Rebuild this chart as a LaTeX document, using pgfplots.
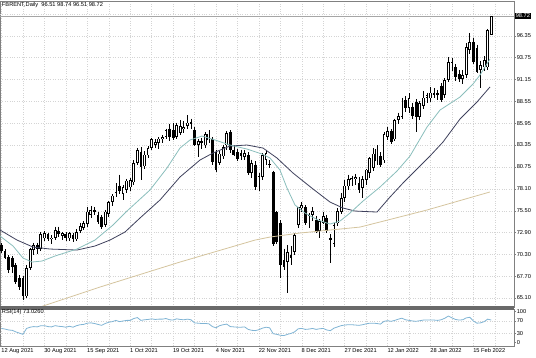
\documentclass[border=0pt]{standalone}
\usepackage{fontspec}
\setmainfont{Liberation Sans}
\usepackage{pgfplots}
\pgfplotsset{compat=1.18}
\usepackage{pgfplotstable}

\definecolor{gridc}{RGB}{212,212,212}
\definecolor{framec}{RGB}{128,128,128}
\definecolor{sepc}{RGB}{105,105,105}
\definecolor{tealma}{RGB}{138,190,188}
\definecolor{darkma}{RGB}{62,64,92}
\definecolor{tanma}{RGB}{212,196,158}
\definecolor{rsic}{RGB}{128,180,212}
\newcommand{\tf}{\fontsize{5.7}{6.5}\selectfont}

% bullish candles: index open high low close
\pgfplotstableread{
i o h l c
7 65.30 69.00 65.10 68.70
8 68.70 71.10 68.40 70.90
9 70.80 71.70 70.20 71.40
11 71.00 73.00 70.70 72.70
12 72.20 73.10 71.90 72.80
14 72.10 72.60 71.50 72.30
15 72.30 73.60 72.00 73.20
17 72.50 73.00 72.00 72.80
19 72.20 73.00 71.90 72.80
21 72.10 73.30 71.90 73.00
22 73.10 74.10 72.80 73.70
23 73.50 74.30 73.20 74.00
24 73.90 76.00 73.60 75.40
25 75.00 76.10 74.60 75.60
29 73.80 75.60 73.60 75.40
30 75.10 76.70 74.80 76.50
31 76.60 77.50 76.10 77.30
32 77.60 78.80 77.20 78.50
34 77.50 78.60 76.80 78.30
35 78.00 79.30 77.60 79.10
36 78.30 79.40 77.90 79.20
37 78.90 81.50 78.60 81.20
38 81.20 83.00 80.90 82.70
40 80.80 82.60 80.50 82.20
41 82.10 83.20 81.80 83.00
42 83.00 84.20 82.70 84.00
43 83.40 84.00 83.00 83.70
44 83.60 84.30 82.90 84.10
45 84.00 84.50 83.60 84.30
46 84.30 85.30 84.00 85.10
49 84.30 86.00 84.00 85.70
50 84.80 86.30 84.50 85.60
51 85.20 86.20 84.80 85.50
52 85.60 86.90 85.30 86.00
55 83.40 84.00 81.90 83.80
57 83.30 84.90 83.00 84.60
58 83.90 85.10 83.60 84.70
61 81.20 82.60 80.90 82.30
62 82.00 83.40 81.70 83.10
63 83.30 85.00 82.80 84.80
68 81.90 82.80 81.50 82.40
70 80.00 81.60 79.40 81.20
72 78.40 80.00 77.90 79.60
73 79.50 82.40 79.20 82.10
74 81.60 82.80 81.00 82.40
80 69.40 71.40 65.70 70.60
82 70.60 72.80 70.20 72.60
83 73.80 76.00 73.40 75.90
84 75.80 76.50 75.40 76.20
86 74.00 75.20 73.50 75.00
87 75.00 75.90 74.30 75.50
89 73.10 74.50 72.20 74.30
90 74.10 75.40 73.90 74.90
93 71.60 74.00 71.20 73.80
94 74.00 75.80 73.70 75.50
95 75.40 77.60 75.10 77.00
96 77.00 79.20 76.60 78.50
97 78.40 79.80 78.00 79.30
98 79.20 79.70 78.40 79.40
99 79.30 79.90 78.60 79.50
101 78.20 79.60 77.00 79.30
102 79.20 80.50 78.60 80.40
103 80.00 81.90 79.40 81.80
104 80.60 83.00 80.20 82.30
105 81.40 83.30 81.00 82.90
107 81.50 84.90 81.20 84.60
108 84.30 85.50 83.90 85.00
110 84.00 86.50 83.80 86.30
111 86.30 87.20 85.90 86.80
112 86.70 89.00 86.40 88.50
114 87.80 89.50 87.20 88.90
117 86.70 88.60 86.30 88.30
118 88.00 89.80 87.60 89.00
119 89.00 89.60 88.30 89.30
120 88.90 90.20 88.50 89.60
124 89.30 91.30 88.90 91.10
125 91.10 93.80 90.80 93.20
126 92.60 93.70 92.20 93.20
129 91.20 92.30 90.60 91.70
130 91.70 95.50 91.30 95.00
131 94.70 96.70 94.20 95.60
134 92.30 93.40 90.10 92.90
135 92.60 93.90 92.20 93.50
136 92.60 97.20 92.30 97.00
137 96.51 98.74 96.51 98.72
}\bulltab

% bearish candles
\pgfplotstableread{
i o h l c
0 71.45 71.70 70.50 70.70
1 70.70 70.90 69.70 69.90
2 70.00 70.20 68.10 68.50
3 69.90 70.10 68.10 68.80
4 69.00 69.30 66.80 67.00
5 67.50 67.80 66.00 66.40
6 67.50 67.70 64.90 65.30
10 71.40 71.70 70.30 70.90
13 72.70 72.90 71.90 72.10
16 73.10 73.60 72.40 72.70
18 72.70 73.00 71.90 72.20
20 72.60 72.90 71.80 72.10
26 75.60 75.90 75.00 75.40
27 75.00 75.40 73.90 74.20
28 74.80 75.00 73.30 73.60
33 78.50 79.80 77.50 77.80
39 82.50 83.10 79.20 80.70
47 85.30 85.90 83.80 84.30
48 85.10 86.00 83.90 84.20
53 86.10 86.50 85.30 85.80
54 85.10 85.50 83.20 83.40
56 83.80 84.20 82.90 83.60
59 84.10 84.30 81.00 81.30
60 82.50 82.80 80.10 80.40
64 84.90 85.10 82.40 82.70
65 82.80 83.30 82.00 82.20
66 82.50 82.90 81.40 81.70
67 82.40 82.80 81.50 82.00
69 82.10 82.50 79.80 80.00
71 81.00 81.40 78.00 78.30
75 81.10 81.50 80.60 80.90
76 80.10 80.30 71.30 71.60
77 75.30 75.50 71.50 71.80
78 74.10 74.40 67.50 69.00
79 69.60 71.00 68.40 68.80
81 70.20 71.30 69.00 69.90
85 75.90 76.20 73.80 74.00
88 74.40 74.90 72.90 73.00
91 74.60 75.00 72.90 73.10
92 72.30 72.70 69.30 72.00
100 78.80 79.50 77.60 78.00
106 82.00 82.50 80.70 81.00
109 85.00 85.20 83.50 83.70
113 88.70 89.20 87.30 87.80
115 87.90 88.40 86.50 86.80
116 88.50 88.80 84.90 86.70
121 89.60 90.10 89.00 89.30
122 89.50 89.90 88.70 89.30
123 90.40 90.70 88.50 88.70
127 92.60 93.00 91.00 91.40
128 91.80 92.30 90.80 91.20
132 95.60 96.10 93.00 93.20
133 94.90 95.30 91.90 92.10
}\beartab

\pgfplotstableread{
i r
0 46
1 44
2 41
3 40
4 35
5 31
6 27
7 46
8 50
9 52
10 51
11 55
12 55
13 52
14 51
15 55
16 53
17 52
18 50
19 53
20 50
21 55
22 58
23 59
24 63
25 64
26 62
27 59
28 56
29 62
30 66
31 68
32 72
33 68
34 70
35 72
36 72
37 78
38 81
39 72
40 74
41 75
42 77
43 75
44 76
45 76
46 78
47 74
48 73
49 77
50 75
51 74
52 76
53 74
54 64
55 63
56 62
57 62
58 61
59 52
60 48
61 55
62 58
63 60
64 52
65 51
66 50
67 50
68 51
69 43
70 40
71 39
72 42
73 47
74 50
75 48
76 29
77 27
78 24
79 23
80 27
81 30
82 35
83 45
84 46
85 43
86 44
87 46
88 43
89 45
90 46
91 41
92 39
93 47
94 51
95 55
96 57
97 58
98 58
99 57
100 56
101 58
102 61
103 63
104 63
105 62
106 60
107 69
108 71
109 69
110 72
111 76
112 79
113 74
114 72
115 70
116 69
117 71
118 73
119 73
120 73
121 73
122 72
123 74
124 79
125 86
126 80
127 75
128 73
129 74
130 80
131 82
132 70
133 63
134 64
135 68
136 76
137 73.03
}\rsitab

\pgfplotsset{
  chartbase/.style={
    scale only axis, width=514bp,
    xmin=-0.42, xmax=143.36,
    xtick={0,6,...,138},
    xmajorgrids,
    grid style={gridc, line width=0.5bp, dash pattern=on 0.8bp off 1.6bp},
    axis line style={framec, line width=0.8bp},
    tick style={framec, line width=0.5bp},
    tick align=outside,
    xtick style={draw=none},
    major tick length=2bp,
    yticklabel pos=right,
    ticklabel style={font=\tf, text=black},
    yticklabel style={anchor=west, inner sep=0.6bp},
    /pgf/number format/assume math mode=true,
    clip mode=individual,
  }
}

\begin{document}
\begin{tikzpicture}[x=1bp,y=1bp]

\begin{axis}[chartbase, at={(0bp,50bp)}, anchor=south west, height=306bp,
  ymin=64.03, ymax=100.51,
  ymajorgrids,
  ytick={65.10,67.70,70.30,72.90,75.50,78.10,80.75,83.35,85.95,88.55,91.15,93.75,96.35},
  y tick label style={/pgf/number format/.cd, fixed, fixed zerofill, precision=2},
  extra y ticks={98.95}, extra y tick labels={},
  xticklabels={},
]
% bid line
\addplot[black!35, line width=0.6bp] coordinates {(-1,98.72) (144,98.72)};
% wicks
\addplot[black, line width=0.7bp, quiver={u=0, v=\thisrow{l}-\thisrow{h}}] table[x=i, y=h] {\beartab};
\addplot[black, line width=0.7bp, quiver={u=0, v=\thisrow{l}-\thisrow{h}}] table[x=i, y=h] {\bulltab};
% bodies
\addplot[black, line width=2.8bp, quiver={u=0, v=\thisrow{c}-\thisrow{o}}] table[x=i, y=o] {\beartab};
\addplot[black, line width=2.8bp, quiver={u=0, v=\thisrow{c}-\thisrow{o}}] table[x=i, y=o] {\bulltab};
\addplot[white, line width=1.0bp, quiver={u=0, v=\thisrow{c}-\thisrow{o},
   every arrow/.append style={shorten >=0.75bp, shorten <=0.75bp}}] table[x=i, y=o] {\bulltab};
% slow MA (tan)
\addplot[tanma, line width=0.8bp] coordinates {
(5.2,63.27) (10.77,64.03) (27.55,66.41) (49.93,69.39) (70.91,72.01) (75.1,72.37)
(83.5,72.85) (100.3,73.56) (119.0,75.59) (136.6,77.74)};
% medium MA (dark)
\addplot[darkma, line width=0.8bp] coordinates {
(-0.42,73.21) (4.34,72.01) (8.81,71.18) (13.57,70.94) (21.12,70.82) (26.15,71.30)
(30.35,72.01) (34.55,72.97) (38.74,74.64) (44.34,76.79) (49.93,79.53) (55.52,81.55)
(59.16,82.39) (63.92,83.22) (68.67,83.34) (73.15,82.98) (77.06,81.79) (81.54,80.00)
(87.13,78.10) (91.89,76.54) (95.52,75.83) (98.88,75.47) (105.03,75.35) (108.67,77.14)
(112.31,78.81) (116.22,80.48) (119.86,82.03) (123.50,83.70) (128.25,86.44) (133.01,88.47)
(136.64,90.26)};
% fast MA (teal)
\addplot[tealma, line width=0.8bp] coordinates {
(-0.42,72.49) (3.22,71.30) (6.01,69.87) (8.53,69.39) (11.33,69.51) (14.97,70.11)
(21.12,70.94) (26.15,72.01) (31.19,73.80) (35.1,75.47) (41.54,77.98) (46.29,80.60)
(49.93,82.98) (52.73,83.94) (56.08,84.41) (59.72,83.94) (63.92,83.34) (68.67,82.86)
(72.87,82.27) (75.1,81.79) (77.9,80.36) (79.86,78.21) (82.1,76.19) (84.9,75.23)
(88.53,74.40) (91.89,73.92) (94.69,74.28) (97.48,75.23) (101.12,76.66) (105.87,78.33)
(110.63,80.24) (114.27,82.03) (119.02,85.48) (122.66,87.51) (128.25,89.06) (131.89,90.61)
(133.85,91.69) (136.64,93.59)};
\node[fill=black, text=white, font=\tf, anchor=west, inner sep=0.8bp, minimum height=6.5bp, xshift=0.8bp]
  at (axis cs:143.36,98.72) {98.72};
\draw[sepc, line width=1.3bp] (rel axis cs:0,0) -- (rel axis cs:1,0);
\end{axis}

\begin{axis}[chartbase, at={(0bp,11bp)}, anchor=south west, height=37bp,
  ymin=-10.6, ymax=108.7,
  ytick={0,100},
  extra y ticks={30,70}, extra y tick style={ymajorgrids=true},
  xticklabels={12 Aug 2021,{},30 Aug 2021,{},15 Sep 2021,{},1 Oct 2021,{},19 Oct 2021,{},4 Nov 2021,{},22 Nov 2021,{},8 Dec 2021,{},27 Dec 2021,{},12 Jan 2022,{},28 Jan 2022,{},15 Feb 2022,{}},
  xticklabel style={anchor=north west, inner sep=0.5bp, xshift=-0.8bp},
]
\addplot[rsic, line width=0.8bp] table[x=i, y=r] {\rsitab};
\draw[sepc, line width=1.3bp] (rel axis cs:0,1) -- (rel axis cs:1,1);
\end{axis}

\node[anchor=west, font=\tf, inner sep=0pt] at (1.8,351.5) {FBRENT,Daily\ \ 96.51 98.74 96.51 98.72};
\node[anchor=west, font=\tf, inner sep=0pt] at (1.8,45) {RSI(14) 73.0260};
\pgfresetboundingbox
\useasboundingbox (0,0) rectangle (536,357);
\end{tikzpicture}
\end{document}
